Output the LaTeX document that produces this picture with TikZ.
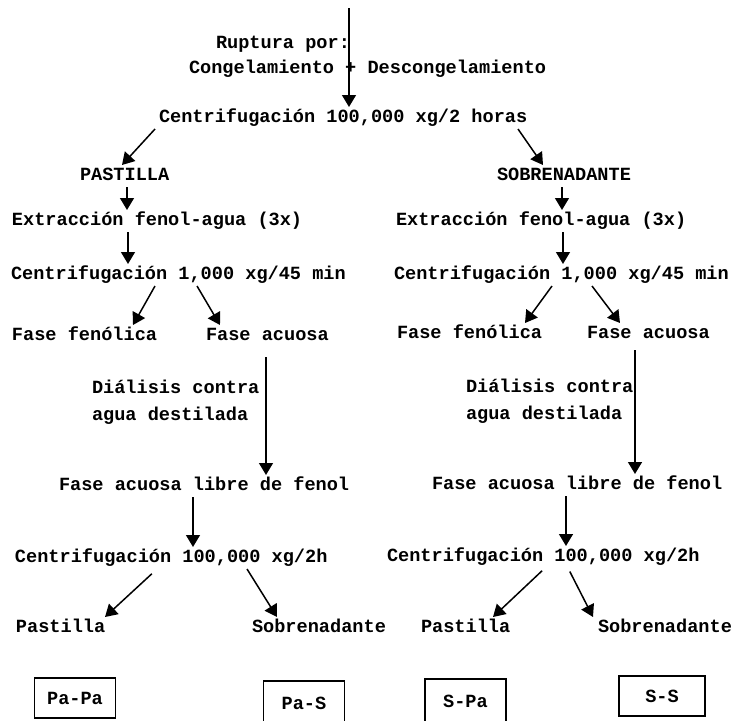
\documentclass[tikz,border=0pt]{standalone}
\usepackage{fontspec}
\setmainfont{Liberation Mono}
\usetikzlibrary{arrows.meta}
\begin{document}
\begin{tikzpicture}[x=1pt,y=-1pt,
  txt/.style={anchor=base west,inner sep=0pt,outer sep=4pt,text height=11pt,text depth=3pt,
    font=\fontsize{18.6}{22}\selectfont\bfseries},
  arr/.style={line width=1.5pt,-{Triangle[width=14pt,length=12pt]}},
  resbox/.style={draw,line width=1.3pt,inner sep=0pt,minimum width=81pt,minimum height=40pt,
    font=\fontsize{18.6}{22}\selectfont\bfseries}]
\useasboundingbox (0,0) rectangle (732,721);
\clip (0,0) rectangle (732,721);
% top
\coordinate (top) at (349,8);
\node[txt] (rupt) at (212,48) {Ruptura por:};
\node[txt] (cong) at (185,73) {Congelamiento + Descongelamiento};
\node[txt] (c0) at (155,122) {Centrifugación 100,000 xg/2 horas};
% left branch
\node[txt] (past) at (76,180) {PASTILLA};
\node[txt] (ext1) at (8,225) {Extracción fenol-agua (3x)};
\node[txt] (cen1) at (7,279) {Centrifugación 1,000 xg/45 min};
\node[txt] (ff1) at (8,340) {Fase fenólica};
\node[txt] (fa1) at (202,340) {Fase acuosa};
\node[txt] (dia1) at (88,393) {Diálisis contra};
\node[txt] (agu1) at (88,420) {agua destilada};
\node[txt] (fl1) at (55,490) {Fase acuosa libre de fenol};
\node[txt] (c3) at (11,562) {Centrifugación 100,000 xg/2h};
\node[txt] (pa3) at (12,632) {Pastilla};
\node[txt] (so3) at (248,632) {Sobrenadante};
% right branch
\node[txt] (sobr) at (493,180) {SOBRENADANTE};
\node[txt] (ext2) at (392,225) {Extracción fenol-agua (3x)};
\node[txt] (cen2) at (390,279) {Centrifugación 1,000 xg/45 min};
\node[txt] (ff2) at (393,338) {Fase fenólica};
\node[txt] (fa2) at (583,338) {Fase acuosa};
\node[txt] (dia2) at (462,392) {Diálisis contra};
\node[txt] (agu2) at (462,419) {agua destilada};
\node[txt] (fl2) at (428,489) {Fase acuosa libre de fenol};
\node[txt] (c4) at (383,561) {Centrifugación 100,000 xg/2h};
\node[txt] (pa4) at (417,632) {Pastilla};
\node[txt] (so4) at (594,632) {Sobrenadante};
% result boxes
\node[resbox] (b1) at (75,698) {Pa-Pa};
\node[resbox,minimum height=44pt] (b2) at (304,703) {Pa-S};
\node[resbox,minimum height=44pt] (b3) at (465.5,701) {S-Pa};
\node[resbox,minimum width=86pt] (b4) at (662,696) {S-S};
% connectors
\draw[arr] (top) -- (c0.north -| 349,0);
\draw[arr] (c0.south -| 155,0) -- (past.north -| 122,0);
\draw[arr] (c0.south -| 518,0) -- (sobr.north -| 543,0);
\draw[arr] (past.south -| 127,0) -- (ext1.north -| 127,0);
\draw[arr] (sobr.south -| 562,0) -- (ext2.north -| 562,0);
\draw[arr] (ext1.south -| 128,0) -- (cen1.north -| 128,0);
\draw[arr] (ext2.south -| 563,0) -- (cen2.north -| 563,0);
\draw[arr] (cen1.south -| 155,0) -- (ff1.north -| 133,0);
\draw[arr] (cen1.south -| 197,0) -- (fa1.north -| 220,0);
\draw[arr] (cen2.south -| 552,0) -- (ff2.north -| 525,0);
\draw[arr] (cen2.south -| 592,0) -- (fa2.north -| 620,0);
\draw[arr,shorten <=10pt] (fa1.south -| 266,0) -- (fl1.north -| 266,0);
\draw[arr,shorten <=5pt] (fa2.south -| 635,0) -- (fl2.north -| 635,0);
\draw[arr] (fl1.south -| 193,0) -- (c3.north -| 193,0);
\draw[arr] (fl2.south -| 566,0) -- (c4.north -| 566,0);
\draw[arr,shorten <=7pt] (c3.south -| 157,0) -- (pa3.north -| 105,0);
\draw[arr] (c3.south -| 247,0) -- (so3.north -| 277,0);
\draw[arr,shorten <=4pt] (c4.south -| 545,0) -- (pa4.north -| 493,0);
\draw[arr,shorten <=4pt] (c4.south -| 568,0) -- (so4.north -| 593,0);
\end{tikzpicture}
\end{document}
